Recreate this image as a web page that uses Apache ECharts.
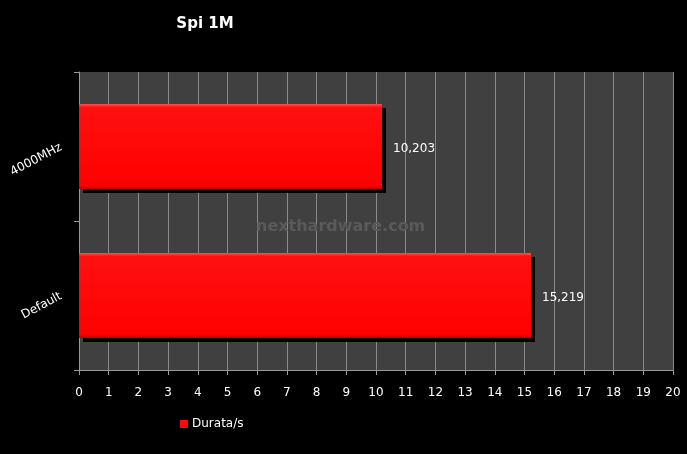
<!DOCTYPE html>
<html><head><meta charset="utf-8">
<script src="https://cdn.jsdelivr.net/npm/echarts@6/dist/echarts.min.js"></script>
<style>html,body{margin:0;padding:0;background:#000;}#c{width:687px;height:454px;}</style>
</head><body><div id="c"></div>
<script>
const titleText = 'Spi 1M';
const categories = ['Default', '4000MHz'];
const seriesName = 'Durata/s';
const values = [15.219, 10.203];
const xTicks = {min: 0, max: 20, interval: 1};

const chart = echarts.init(document.getElementById('c'));
chart.setOption({
  backgroundColor: '#000',
  animation: false,
  title: {
    text: titleText, left: 200, top: 12, textAlign: 'center',
    textStyle: {color: '#fff', fontFamily: 'DejaVu Sans', fontWeight: 'bold', fontSize: 15}
  },
  legend: {
    data: [seriesName], left: 175, top: 413, itemWidth: 8, itemHeight: 8, itemGap: 4,
    icon: 'rect',
    textStyle: {color: '#fff', fontFamily: 'DejaVu Sans', fontSize: 12, padding: [0,0,0,-1]}
  },
  grid: {left: 79, right: 14, top: 72, bottom: 84, show: true, backgroundColor: '#404040', borderWidth: 0},
  graphic: [{
    type: 'text', left: 256, top: 219, z: 1,
    style: {text: 'nexthardware.com', fill: '#5a5a5a', font: 'bold 16px "DejaVu Sans"'}
  }],
  xAxis: {
    type: 'value', min: xTicks.min, max: xTicks.max, interval: xTicks.interval,
    axisLine: {show: true, lineStyle: {color: '#999', width: 1}},
    axisTick: {show: true, length: 5, lineStyle: {color: '#999'}},
    axisLabel: {color: '#fff', fontFamily: 'DejaVu Sans', fontSize: 12, margin: 17},
    splitLine: {show: true, lineStyle: {color: '#8a8a8a', width: 1}}
  },
  yAxis: {
    type: 'category', data: categories,
    axisLine: {show: true, lineStyle: {color: '#999', width: 1}},
    axisTick: {show: true, length: 5, lineStyle: {color: '#999'}},
    axisLabel: {color: '#fff', fontFamily: 'DejaVu Sans', fontSize: 12, rotate: 28, margin: 18},
    splitLine: {show: false}
  },
  series: [{
    name: seriesName, type: 'bar', data: values, barCategoryGap: '43%',
    itemStyle: {
      color: {type: 'linear', x: 0, y: 0, x2: 0, y2: 1, colorStops: [
        {offset: 0, color: '#ff5050'}, {offset: 0.04, color: '#ff1010'},
        {offset: 0.96, color: '#ff0000'}, {offset: 1, color: '#c00000'}]},
      borderWidth: 0,
      shadowColor: '#000', shadowOffsetX: 4, shadowOffsetY: 4, shadowBlur: 0
    },
    label: {
      show: true, position: 'right', distance: 11, offset: [0, 2], color: '#fff',
      fontFamily: 'DejaVu Sans', fontSize: 12,
      formatter: p => p.value.toFixed(3).replace('.', ',')
    }
  }]
});
</script></body></html>
